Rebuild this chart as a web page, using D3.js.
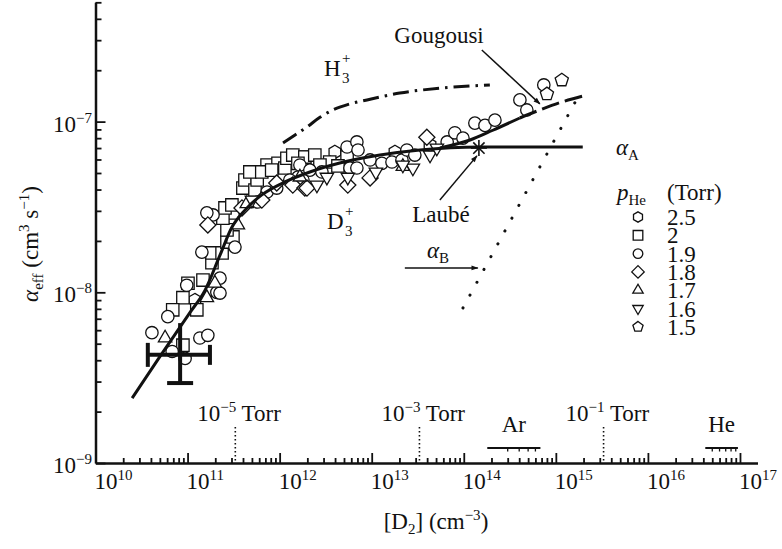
<!DOCTYPE html>
<html>
<head>
<meta charset="utf-8">
<script src="https://d3js.org/d3.v7.min.js"></script>
<style>
  body { margin: 0; background: #fff; }
  svg text { font-family: "Liberation Serif", "Times New Roman", serif; fill: #111; }
</style>
</head>
<body>
<svg id="chart" width="782" height="549"></svg>
<script>
// ---- axis ticks ----
var xTickExps = [10, 11, 12, 13, 14, 15, 16, 17];
var yTickExps = [-9, -8, -7];

// ---- legend ----
var pressureLabels = ["2.5", "2", "1.9", "1.8", "1.7", "1.6", "1.5"];
var pressureShapes = ["hexagon", "square", "circle", "diamond", "triangle", "triangleDown", "pentagon"];

// ---- measured points, [D2] (cm^-3), alpha_eff (cm^3 s^-1) ----
var p25 = [[1.2e11, 9.0e-9], [3.98e12, 6.64e-8], [1.79e13, 6.64e-8], [4.3e13, 7.3e-8]];
var p20 = [
  [1.01e11, 1.13e-8], [8.9e10, 9.3e-9], [6.9e10, 7.9e-9], [1.26e11, 7.9e-9], [8.9e10, 4.9e-9],
  [1.47e11, 1.18e-8], [1.84e11, 1.49e-8], [1.84e11, 1.70e-8], [2.37e11, 1.70e-8], [2.68e11, 1.97e-8],
  [3.11e11, 2.11e-8], [2.68e11, 2.32e-8], [3.11e11, 2.92e-8], [2.42e11, 2.72e-8], [2.55e11, 3.12e-8],
  [3.03e11, 3.25e-8], [3.99e11, 4.08e-8], [4.2e11, 4.55e-8], [5.4e11, 3.97e-8], [5.7e11, 4.55e-8],
  [7.3e11, 5.57e-8], [9.6e11, 5.7e-8], [1.14e12, 5.35e-8], [1.2e12, 6.1e-8], [1.79e12, 6.2e-8],
  [1.39e12, 6.37e-8], [1.88e12, 6.2e-8], [2.41e12, 6.37e-8], [3.5e12, 5.8e-8], [5.4e12, 6.2e-8],
  [4.75e11, 5.07e-8], [6.4e11, 5.07e-8], [8.2e11, 5.2e-8], [1.58e12, 5.7e-8], [2.74e12, 5.57e-8],
  [4.3e12, 5.5e-8]
];
var p19 = [
  [1.84e11, 1.03e-8], [2.08e11, 1.0e-8], [6.1e10, 7.2e-9], [4.1e10, 5.8e-9], [1.36e11, 5.4e-9],
  [1.66e11, 5.6e-9], [6.8e10, 4.5e-9], [9.4e10, 4.1e-9], [1.89e11, 2.84e-8], [1.43e11, 1.72e-8],
  [3.27e11, 1.84e-8], [2.25e11, 1.21e-8], [2.25e11, 9.9e-9], [9.8e10, 1.10e-8], [5.8e11, 3.38e-8],
  [7.3e11, 3.87e-8], [1.58e12, 4.73e-8], [1.79e12, 4.55e-8], [5.4e12, 7.1e-8], [6.9e12, 7.6e-8],
  [7.1e12, 6.82e-8], [9.6e12, 5.96e-8], [1.29e13, 5.7e-8], [1.66e13, 5.8e-8], [2.13e13, 5.96e-8],
  [2.41e13, 6.82e-8], [2.94e13, 6.37e-8], [6.6e13, 7.6e-8], [8.0e13, 8.6e-8], [9.8e13, 8.0e-8],
  [1.32e14, 9.8e-8], [1.70e14, 9.5e-8], [2.18e14, 1.02e-7], [4.07e14, 1.34e-7], [4.84e14, 1.17e-7],
  [7.4e14, 1.64e-7], [1.66e12, 5.57e-8], [2.13e12, 5.2e-8], [2.88e12, 5.07e-8], [5.8e12, 5.35e-8],
  [6.9e12, 5.35e-8], [1.62e11, 2.92e-8], [9.3e11, 4.08e-8], [1.29e12, 4.55e-8]
];
var p18 = [
  [1.66e11, 2.48e-8], [9.3e11, 4.37e-8], [1.39e12, 4.25e-8], [1.88e12, 4.08e-8], [3.9e11, 3.12e-8],
  [3.97e13, 8.1e-8], [1.98e12, 4.08e-8], [9.6e12, 4.68e-8], [5.5e12, 4.25e-8], [6.4e11, 3.47e-8]
];
var p17 = [
  [5.7e10, 5.4e-9], [1.62e11, 9.3e-9], [1.98e11, 1.13e-8], [1.66e12, 4.73e-8], [2.18e13, 5.46e-8],
  [4.4e11, 3.3e-8], [3.52e11, 2.48e-8]
];
var p16 = [
  [5.5e12, 4.73e-8], [2.54e12, 4.25e-8], [2.8e13, 5.35e-8], [4.3e13, 6.37e-8], [5.1e13, 7.0e-8],
  [2.18e13, 5.57e-8], [3.26e12, 4.73e-8], [5.0e11, 3.47e-8], [1.11e13, 5.07e-8]
];
var p15 = [[8.0e14, 1.45e-7], [1.16e15, 1.75e-7]];
var series = [p25, p20, p19, p18, p17, p16, p15];

// ---- curves ----
var d3Curve = [
  [2.5e10, 2.4e-9], [5.0e10, 4.2e-9], [1.06e11, 7.6e-9], [1.55e11, 1.03e-8], [2.25e11, 1.65e-8],
  [3.0e11, 2.38e-8], [4.2e11, 3.03e-8], [6.4e11, 3.72e-8], [1.14e12, 4.43e-8], [2.13e12, 5.07e-8],
  [4.5e12, 5.72e-8], [1.23e13, 6.37e-8], [3.34e13, 6.82e-8], [1.5e14, 7.1e-8], [1.96e15, 7.1e-8]
];
var riseCurve = [
  [5.5e13, 7.0e-8], [1.17e14, 7.8e-8], [2.07e14, 8.9e-8], [4.06e14, 1.05e-7],
  [6.7e14, 1.17e-7], [1.1e15, 1.29e-7], [1.96e15, 1.41e-7]
];
var h3Curve = [
  [1.09e12, 7.5e-8], [1.47e12, 8.35e-8], [1.98e12, 9.3e-8], [2.74e12, 1.06e-7], [3.79e12, 1.17e-7],
  [5.8e12, 1.27e-7], [8.9e12, 1.34e-7], [2.02e13, 1.47e-7], [5.5e13, 1.57e-7], [1.92e14, 1.64e-7]
];
var alphaBLine = [[9.8e13, 8.1e-9], [1.62e15, 1.3e-7]];

// ---- error bar, Laube point ----
var errBar = {x: 8.3e10, y: 4.3e-9, x0: 3.7e10, x1: 1.75e11, y0: 2.94e-9, y1: 6.6e-9};
var laube = [1.46e14, 7.0e-8];

// ---- pressure and gas markers on the x axis ----
var torrExps = ["\u22125", "\u22123", "\u22121"];
var torrX = [3.3e11, 3.3e13, 3.3e15];
var gasNames = ["Ar", "He"];
var gasRanges = [[1.8e14, 6.8e14], [4.2e16, 9.5e16]];
var gasTicks = [[3e14, 4e14, 5e14, 6e14], [5e16, 6e16, 7e16, 8e16, 9e16]];

var FS = 23, SS = 15;   // main and script font sizes

var svg = d3.select("#chart");
var x = d3.scaleLog().domain([1e10, 1.55e17]).range([95.5, 757.5]);
var y = d3.scaleLog().domain([1e-9, 5e-7]).range([463, 2.3]);

function minorTicks(scale) {
  var d = scale.domain(), out = [];
  for (var e = Math.floor(Math.log10(d[0])); e <= Math.ceil(Math.log10(d[1])); e++) {
    for (var m = 2; m <= 9; m++) {
      var v = m * Math.pow(10, e);
      if (v > d[0] * 1.0001 && v <= d[1] * 1.0001) out.push(v);
    }
  }
  return out;
}

// axes
var gx = svg.append("g").attr("transform", "translate(0,463)");
gx.call(d3.axisBottom(x).tickValues(minorTicks(x)).tickSize(-5).tickSizeOuter(0).tickFormat(""));
gx.append("g").call(d3.axisBottom(x).tickValues(xTickExps.map(function(e){ return Math.pow(10, e); }))
  .tickSize(-10).tickSizeOuter(0).tickFormat("")).select(".domain").remove();
var gy = svg.append("g").attr("transform", "translate(95.5,0)");
gy.call(d3.axisLeft(y).tickValues(minorTicks(y)).tickSize(-6).tickSizeOuter(0).tickFormat(""));
gy.append("g").call(d3.axisLeft(y).tickValues(yTickExps.map(function(e){ return Math.pow(10, e); }))
  .tickSize(-10).tickSizeOuter(0).tickFormat("")).select(".domain").remove();
svg.selectAll(".domain").attr("stroke", "#111").attr("stroke-width", 2.5);
svg.selectAll(".tick line").attr("stroke", "#111").attr("stroke-width", 1.8);

// tick labels
xTickExps.forEach(function(e) {
  var t = svg.append("text").attr("x", x(Math.pow(10, e)) - 1).attr("y", 489).attr("font-size", FS);
  t.append("tspan").text("10");
  t.append("tspan").attr("dy", -9).attr("font-size", SS).text(e);
});
yTickExps.forEach(function(e) {
  var t = svg.append("text").attr("x", 92).attr("y", y(Math.pow(10, e)) + 10)
    .attr("font-size", FS).attr("text-anchor", "end");
  t.append("tspan").text("10");
  t.append("tspan").attr("dy", -9).attr("font-size", SS).text("\u2212" + (-e));
});

// axis titles
var xt = svg.append("text").attr("x", 436).attr("y", 529).attr("font-size", FS).attr("text-anchor", "middle");
xt.append("tspan").text("[D");
xt.append("tspan").attr("dy", 5).attr("font-size", SS).text("2");
xt.append("tspan").attr("dy", -5).text("] (cm");
xt.append("tspan").attr("dy", -9).attr("font-size", SS).text("\u22123");
xt.append("tspan").attr("dy", 9).text(")");

var yt = svg.append("text").attr("transform", "translate(38,244) rotate(-90)")
  .attr("font-size", FS).attr("text-anchor", "middle");
yt.append("tspan").attr("font-style", "italic").text("\u03b1");
yt.append("tspan").attr("dy", 5).attr("font-size", SS).text("eff");
yt.append("tspan").attr("dy", -5).text(" (cm");
yt.append("tspan").attr("dy", -9).attr("font-size", SS).text("3");
yt.append("tspan").attr("dy", 9).text(" s");
yt.append("tspan").attr("dy", -9).attr("font-size", SS).text("\u22121");
yt.append("tspan").attr("dy", 9).text(")");

// marker shapes
function polygon(n, r, rot) {
  var pts = d3.range(n).map(function(i) {
    var a = rot + i * 2 * Math.PI / n;
    return [r * Math.cos(a), r * Math.sin(a)];
  });
  return "M" + pts.join("L") + "Z";
}
function shapePath(type, s) {
  switch (type) {
    case "circle": return d3.symbol(d3.symbolCircle, Math.PI * s * s)();
    case "square": return "M" + (-s) + "," + (-s) + "h" + 2 * s + "v" + 2 * s + "h" + (-2 * s) + "Z";
    case "diamond": return polygon(4, s * 1.3, -Math.PI / 2);
    case "triangle": return polygon(3, s * 1.25, -Math.PI / 2);
    case "triangleDown": return polygon(3, s * 1.25, Math.PI / 2);
    case "pentagon": return polygon(5, s * 1.12, -Math.PI / 2);
    case "hexagon": return polygon(6, s * 1.08, -Math.PI / 2);
  }
}

// points
var gp = svg.append("g");
series.forEach(function(data, i) {
  gp.selectAll(null).data(data).enter().append("path")
    .attr("d", shapePath(pressureShapes[i], 6.2))
    .attr("transform", function(d) { return "translate(" + x(d[0]) + "," + y(d[1]) + ")"; })
    .attr("fill", "#fff").attr("stroke", "#111").attr("stroke-width", 1.3);
});

// curves
var line = d3.line().x(function(d) { return x(d[0]); }).y(function(d) { return y(d[1]); })
  .curve(d3.curveMonotoneX);
svg.append("path").attr("d", line(d3Curve)).attr("fill", "none")
  .attr("stroke", "#111").attr("stroke-width", 3);
svg.append("path").attr("d", line(riseCurve.slice(0, 4))).attr("fill", "none")
  .attr("stroke", "#111").attr("stroke-width", 3);
svg.append("path").attr("d", line(riseCurve.slice(3))).attr("fill", "none")
  .attr("stroke", "#111").attr("stroke-width", 3).attr("stroke-dasharray", "18,6");
svg.append("path").attr("d", line(h3Curve)).attr("fill", "none")
  .attr("stroke", "#111").attr("stroke-width", 3).attr("stroke-dasharray", "16,6,2.5,6");
svg.append("path").attr("d", d3.line().x(function(d) { return x(d[0]); }).y(function(d) { return y(d[1]); })(alphaBLine))
  .attr("fill", "none").attr("stroke", "#111").attr("stroke-width", 3)
  .attr("stroke-linecap", "round").attr("stroke-dasharray", "0.1,14.5");

// error bar
var ge = svg.append("g").attr("stroke", "#111").attr("stroke-width", 4);
var ex = x(errBar.x), ey = y(errBar.y);
ge.append("line").attr("x1", x(errBar.x0)).attr("x2", x(errBar.x1)).attr("y1", ey).attr("y2", ey);
ge.append("line").attr("x1", ex).attr("x2", ex).attr("y1", y(errBar.y0)).attr("y2", y(errBar.y1));
ge.append("line").attr("x1", x(errBar.x0)).attr("x2", x(errBar.x0)).attr("y1", ey - 12).attr("y2", ey + 12);
ge.append("line").attr("x1", x(errBar.x1)).attr("x2", x(errBar.x1)).attr("y1", ey - 10).attr("y2", ey + 10);
ge.append("line").attr("x1", ex - 13).attr("x2", ex + 13).attr("y1", y(errBar.y0)).attr("y2", y(errBar.y0));

// Laube asterisk
var lx = x(laube[0]), ly = y(laube[1]);
svg.append("g").selectAll("line").data(d3.range(4)).enter().append("line")
  .attr("x1", function(i) { return lx - 8 * Math.cos(i * Math.PI / 4); })
  .attr("y1", function(i) { return ly - 8 * Math.sin(i * Math.PI / 4); })
  .attr("x2", function(i) { return lx + 8 * Math.cos(i * Math.PI / 4); })
  .attr("y2", function(i) { return ly + 8 * Math.sin(i * Math.PI / 4); })
  .attr("stroke", "#111").attr("stroke-width", 1.6);

// arrows
svg.append("defs").append("marker").attr("id", "ah").attr("viewBox", "0 0 10 10")
  .attr("refX", 9).attr("refY", 5).attr("markerWidth", 9).attr("markerHeight", 7)
  .attr("markerUnits", "userSpaceOnUse").attr("orient", "auto")
  .append("path").attr("d", "M0,1.5L10,5L0,8.5Z").attr("fill", "#111");
function arrow(a, b) {
  svg.append("line").attr("x1", x(a[0])).attr("y1", y(a[1])).attr("x2", x(b[0])).attr("y2", y(b[1]))
    .attr("stroke", "#111").attr("stroke-width", 1.5).attr("marker-end", "url(#ah)");
}
arrow([1.57e14, 2.63e-7], [6.7e14, 1.27e-7]);   // Gougousi
arrow([5.5e13, 3.47e-8], [1.39e14, 6.3e-8]);    // Laube
arrow([2.29e13, 1.39e-8], [1.42e14, 1.39e-8]);  // alpha_B

// annotation text
function label(px, py, anchor) {
  return svg.append("text").attr("x", px).attr("y", py).attr("font-size", FS).attr("text-anchor", anchor || "start");
}
label(439, 43, "middle").text("Gougousi");
label(441, 222, "middle").text("Laub\u00e9");
label(324, 76).text("H");
label(342, 63).attr("font-size", SS).text("+");
label(342, 83).attr("font-size", SS).text("3");
label(327, 229).text("D");
label(345, 216).attr("font-size", SS).text("+");
label(345, 236).attr("font-size", SS).text("3");
var ab = label(427, 258);
ab.append("tspan").attr("font-style", "italic").text("\u03b1");
ab.append("tspan").attr("dy", 5).attr("font-size", SS).text("B");
var aa = label(616, 155);
aa.append("tspan").attr("font-style", "italic").text("\u03b1");
aa.append("tspan").attr("dy", 5).attr("font-size", SS).text("A");

// legend
var lh = label(617, 200);
lh.append("tspan").attr("font-style", "italic").text("p");
lh.append("tspan").attr("dy", 5).attr("font-size", SS).text("He");
label(667, 200).text("(Torr)");
pressureLabels.forEach(function(p, i) {
  var cy = 217 + i * 18.3;
  svg.append("path").attr("d", shapePath(pressureShapes[i], 4.8))
    .attr("transform", "translate(638," + cy + ")")
    .attr("fill", "#fff").attr("stroke", "#111").attr("stroke-width", 1.3);
  label(667, cy + 8).text(p);
});

// pressure markers
torrX.forEach(function(v, i) {
  svg.append("line").attr("x1", x(v)).attr("x2", x(v)).attr("y1", 427).attr("y2", 462)
    .attr("stroke", "#111").attr("stroke-width", 1.6).attr("stroke-dasharray", "1.6,2.4");
  var t = label(x(v) - 38, 421);
  t.append("tspan").text("10");
  t.append("tspan").attr("dy", -9).attr("font-size", SS).text(torrExps[i]);
  t.append("tspan").attr("dy", 9).text(" Torr");
});

// gas ranges
gasNames.forEach(function(g, i) {
  var r = gasRanges[i];
  svg.append("line").attr("x1", x(r[0])).attr("x2", x(r[1])).attr("y1", 448).attr("y2", 448)
    .attr("stroke", "#111").attr("stroke-width", 2.2);
  svg.selectAll(null).data(gasTicks[i]).enter().append("line")
    .attr("x1", function(d) { return x(d); }).attr("x2", function(d) { return x(d); })
    .attr("y1", 448).attr("y2", 451.5).attr("stroke", "#111").attr("stroke-width", 1.3);
  label((x(r[0]) + x(r[1])) / 2, 432, "middle").text(g);
});
</script>
</body>
</html>
